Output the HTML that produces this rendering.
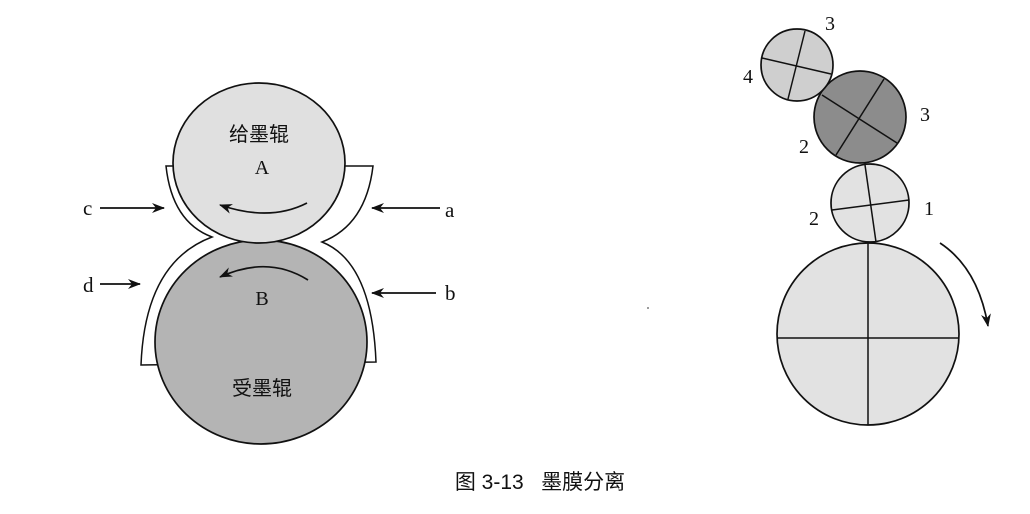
<!DOCTYPE html>
<html><head><meta charset="utf-8"><style>
html,body{margin:0;padding:0;background:#fff;}
svg{display:block;}
text{font-family:"Liberation Serif","Noto Serif CJK SC",serif;fill:#111;}
.cjk{font-family:"Liberation Sans","Noto Sans CJK SC",sans-serif;}
</style></head><body>
<svg width="1030" height="514" viewBox="0 0 1030 514" xmlns="http://www.w3.org/2000/svg">
<defs>
<marker id="ah" markerWidth="13" markerHeight="10" refX="12" refY="5" orient="auto" markerUnits="userSpaceOnUse">
<path d="M0,0 L13,5 L0,10 L4,5 Z" fill="#111"/></marker>
</defs>
<path d="M166,166 Q172,222 212,237 Q145,262 141,365 L376,362 Q372,262 322,242 Q366,225 373,166 Z" fill="#fff" stroke="#111" stroke-width="1.5"/>
<ellipse cx="261" cy="342" rx="106" ry="102" fill="#b4b4b4" stroke="#111" stroke-width="1.7"/>
<ellipse cx="259" cy="163" rx="86" ry="80" fill="#e0e0e0" stroke="#111" stroke-width="1.7"/>
<path d="M307,203 Q270,222 220,205" fill="none" stroke="#111" stroke-width="1.7" marker-end="url(#ah)"/>
<path d="M308,280 Q268,255 220,277" fill="none" stroke="#111" stroke-width="1.7" marker-end="url(#ah)"/>
<line x1="100" y1="208" x2="164" y2="208" stroke="#111" stroke-width="1.7" marker-end="url(#ah)"/>
<line x1="440" y1="208" x2="372" y2="208" stroke="#111" stroke-width="1.7" marker-end="url(#ah)"/>
<line x1="100" y1="284" x2="140" y2="284" stroke="#111" stroke-width="1.7" marker-end="url(#ah)"/>
<line x1="436" y1="293" x2="372" y2="293" stroke="#111" stroke-width="1.7" marker-end="url(#ah)"/>
<text x="83" y="215" font-size="21">c</text>
<text x="445" y="217" font-size="21">a</text>
<text x="83" y="292" font-size="21">d</text>
<text x="445" y="300" font-size="21">b</text>
<text class="cjk" x="259" y="141" font-size="20" text-anchor="middle">给墨辊</text>
<text x="262" y="174" font-size="20" text-anchor="middle">A</text>
<text x="262" y="305" font-size="20" text-anchor="middle">B</text>
<text class="cjk" x="262" y="395" font-size="20" text-anchor="middle">受墨辊</text>

<circle cx="868" cy="334" r="91" fill="#e2e2e2" stroke="#111" stroke-width="1.7"/>
<line x1="868" y1="243" x2="868" y2="425" stroke="#111" stroke-width="1.5"/>
<line x1="777" y1="338" x2="959" y2="338" stroke="#111" stroke-width="1.5"/>
<circle cx="870" cy="203" r="39" fill="#e2e2e2" stroke="#111" stroke-width="1.7"/>
<line x1="832" y1="210" x2="909" y2="200" stroke="#111" stroke-width="1.5"/>
<line x1="865" y1="165" x2="876" y2="242" stroke="#111" stroke-width="1.5"/>
<circle cx="860" cy="117" r="46" fill="#8c8c8c" stroke="#111" stroke-width="1.7"/>
<line x1="822" y1="95" x2="897" y2="143" stroke="#111" stroke-width="1.5"/>
<line x1="884" y1="79" x2="836" y2="155" stroke="#111" stroke-width="1.5"/>
<circle cx="797" cy="65" r="36" fill="#cfcfcf" stroke="#111" stroke-width="1.7"/>
<line x1="762" y1="58" x2="831" y2="74" stroke="#111" stroke-width="1.5"/>
<line x1="805" y1="31" x2="788" y2="99" stroke="#111" stroke-width="1.5"/>
<path d="M940,243 Q978,268 988,326" fill="none" stroke="#111" stroke-width="1.7" marker-end="url(#ah)"/>
<text x="825" y="30" font-size="20">3</text>
<text x="743" y="83" font-size="20">4</text>
<text x="920" y="121" font-size="20">3</text>
<text x="799" y="153" font-size="20">2</text>
<text x="924" y="215" font-size="20">1</text>
<text x="809" y="225" font-size="20">2</text>
<circle cx="648" cy="308" r="0.9" fill="#555"/>
<text class="cjk" x="540" y="489" font-size="21" text-anchor="middle" xml:space="preserve">图 3-13   墨膜分离</text>
</svg>
</body></html>
